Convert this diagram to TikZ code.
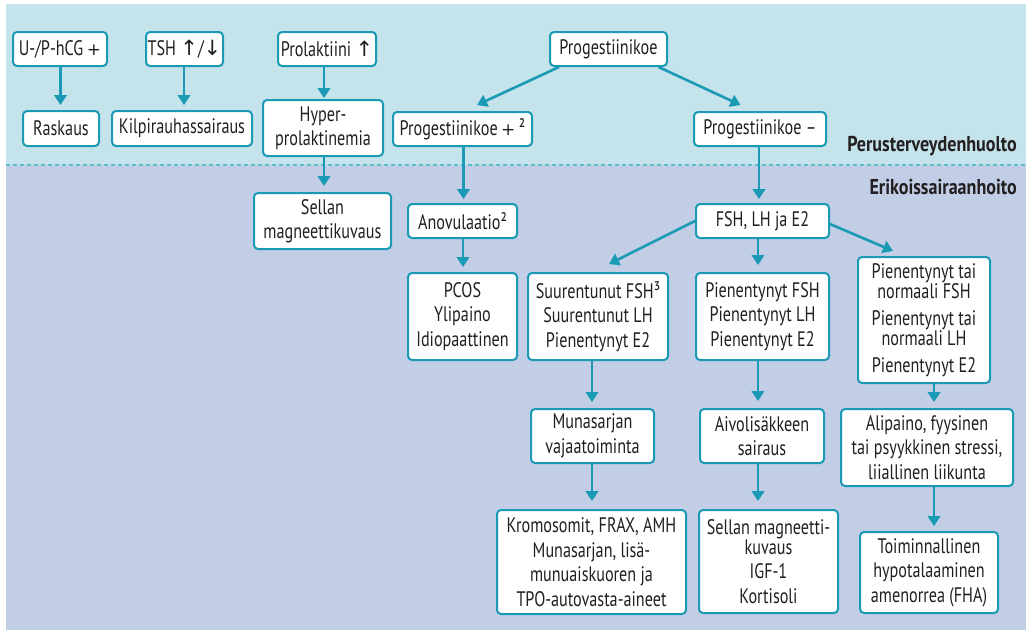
\documentclass[tikz,border=0pt]{standalone}
\usepackage{fontspec}
\setmainfont[FakeStretch=0.77]{PT Sans}
\newfontfamily\labfont[FakeStretch=0.84]{PT Sans}
\newfontfamily\arrfont{DejaVu Sans}
\usetikzlibrary{arrows.meta,calc}
\definecolor{teal1}{HTML}{1A9AB5}
\definecolor{bgtop}{HTML}{C5E3EA}
\definecolor{bgbot}{HTML}{C2CDE6}
\definecolor{dashc}{HTML}{5DBDD3}
\definecolor{txt}{HTML}{231F20}
\newcommand{\pl}{{\arrfont\fontsize{17}{20}\selectfont +}}
\begin{document}
\begin{tikzpicture}[x=1pt,y=-1pt,
  box/.style={draw=teal1, line width=2pt, fill=white, rounded corners=4pt, align=center,
    inner sep=0pt, text=txt, font=\fontsize{21}{24.5}\selectfont},
  arr/.style={draw=teal1, line width=2.6pt, -{Triangle[width=12.5pt,length=10pt]}},
  lab/.style={font=\labfont\bfseries\fontsize{21.5}{24}\selectfont, text=txt, anchor=east, inner sep=0pt}]
\useasboundingbox (0,0) rectangle (1026,630);
\fill[white] (0,0) rectangle (1026,630);
\fill[bgtop] (6,4) rectangle (1026,165);
\fill[bgbot] (6,165) rectangle (1026,630);
\draw[dashc, line width=1.5pt, dash pattern=on 4pt off 3pt] (6,165) -- (1026,165);

\node[lab] (peru) at (1017,146) {Perusterveydenhuolto};
\node[lab] (erik) at (1017,187) {Erikoissairaanhoito};

% top row
\node[box, minimum width=94pt, minimum height=34pt] (hcg) at (60,49) {U-/P-hCG\,\pl};
\node[box, minimum width=77pt, minimum height=34pt] (tsh) at (184.5,49) {TSH {\arrfont↑}/{\arrfont↓}};
\node[box, minimum width=98pt, minimum height=34pt] (prl) at (327,49) {Prolaktiini {\arrfont↑}};
\node[box, minimum width=117pt, minimum height=34pt] (prog) at (608.5,49) {Progestiinikoe};

% second row
\node[box, minimum width=76pt, minimum height=35pt] (rask) at (61,128.5) {Raskaus};
\node[box, minimum width=140pt, minimum height=35pt] (kilp) at (182,128.5) {Kilpirauhassairaus};
\node[box, minimum width=120pt, minimum height=56pt] (hyper) at (323,128) {Hyper-\\prolaktinemia};
\node[box, minimum width=139pt, minimum height=34pt] (progp) at (462.5,129) {Progestiinikoe\,\pl\,²};
\node[box, minimum width=132pt, minimum height=34pt] (progm) at (760,129) {Progestiinikoe –};

% third row
\node[box, minimum width=137pt, minimum height=56pt] (sell1) at (322.5,221) {Sellan\\magneettikuvaus};
\node[box, minimum width=109pt, minimum height=34pt] (anov) at (462.5,221) {Anovulaatio²};
\node[box, minimum width=133pt, minimum height=34pt] (fsh) at (762.5,221) {FSH, LH ja E2};

% fourth row
\node[box, minimum width=109pt, minimum height=87pt] (pcos) at (462.5,316.5) {PCOS\\Ylipaino\\Idiopaattinen};
\node[box, minimum width=140pt, minimum height=87pt] (suur) at (598,316.5) {Suurentunut FSH³\\Suurentunut LH\\Pienentynyt E2};
\node[box, minimum width=133pt, minimum height=87pt] (pien) at (762.5,316.5) {Pienentynyt FSH\\Pienentynyt LH\\Pienentynyt E2};
\node[box, minimum width=132pt, minimum height=126pt] (pnorm) at (924,320) {Pienentynyt tai\\[-4.5pt]normaali FSH\\[3pt]Pienentynyt tai\\[-4.5pt]normaali LH\\[2.5pt]Pienentynyt E2};

% fifth row
\node[box, minimum width=123pt, minimum height=54pt] (muna) at (592.5,436) {Munasarjan\\vajaatoiminta};
\node[box, minimum width=124pt, minimum height=54pt] (aivo) at (762,436) {Aivolisäkkeen\\sairaus};
\node[box, minimum width=172pt, minimum height=77pt] (alip) at (927,447.5) {Alipaino, fyysinen\\tai psyykkinen stressi,\\liiallinen liikunta};

% sixth row
\node[box, minimum width=189pt, minimum height=104pt] (krom) at (591.5,562) {Kromosomit, FRAX, AMH\\Munasarjan, lisä-\\munuaiskuoren ja\\TPO-autovasta-aineet};
\node[box, minimum width=139pt, minimum height=103pt] (sell2) at (768.5,561.5) {Sellan magneetti-\\[-4.5pt]kuvaus\\IGF-1\\Kortisoli};
\node[box, minimum width=138pt, minimum height=81pt] (toim) at (929,572.5) {Toiminnallinen\\hypotalaaminen\\amenorrea (FHA)};

% connectors
\draw[arr] ([xshift=0.5pt]hcg.south) -- ([xshift=0.5pt,yshift=5pt]hcg.south |- rask.north);
\draw[arr] ([xshift=-0.5pt]tsh.south) -- ([xshift=-0.5pt,yshift=5pt]tsh.south |- kilp.north);
\draw[arr] ([xshift=-3pt]prl.south) -- ([xshift=-3pt,yshift=1pt]prl.south |- hyper.north);
\draw[arr] ([xshift=1pt]hyper.south) -- ([xshift=1pt,yshift=6pt]hyper.south |- sell1.north);
\draw[arr] ([xshift=-49.5pt]prog.south) -- ([xshift=14.5pt,yshift=6pt]progp.north);
\draw[arr] ([xshift=50pt]prog.south) -- ([xshift=-19.5pt,yshift=6pt]progm.north);
\draw[arr] ([xshift=1pt]progp.south) -- ([xshift=1pt,yshift=4pt]progp.south |- anov.north);
\draw[arr] ([xshift=-1pt]progm.south) -- ([xshift=-1pt,yshift=4pt]progm.south |- fsh.north);
\draw[arr] ([xshift=0.5pt]anov.south) -- ([xshift=0.5pt,yshift=5pt]anov.south |- pcos.north);
\draw[arr] (fsh.west) -- ([xshift=11pt,yshift=8pt]suur.north);
\draw[arr] ([xshift=-4.5pt]fsh.south) -- ([xshift=-4.5pt,yshift=7pt]fsh.south |- pien.north);
\draw[arr] ([yshift=-3pt]fsh.east) -- ([xshift=-31pt,yshift=5pt]pnorm.north);
\draw[arr] ([xshift=-6pt]suur.south) -- ([xshift=-6pt,yshift=6pt]suur.south |- muna.north);
\draw[arr] ([xshift=-4.5pt]pien.south) -- ([xshift=-4.5pt,yshift=7pt]pien.south |- aivo.north);
\draw[arr] ([xshift=10pt]pnorm.south) -- ([xshift=10pt,yshift=6pt]pnorm.south |- alip.north);
\draw[arr] ([xshift=-0.5pt]muna.south) -- ([xshift=-0.5pt,yshift=8pt]muna.south |- krom.north);
\draw[arr] ([xshift=-4pt]aivo.south) -- ([xshift=-4pt,yshift=8pt]aivo.south |- sell2.north);
\draw[arr] ([xshift=7pt]alip.south) -- ([xshift=7pt,yshift=5pt]alip.south |- toim.north);
\end{tikzpicture}
\end{document}
